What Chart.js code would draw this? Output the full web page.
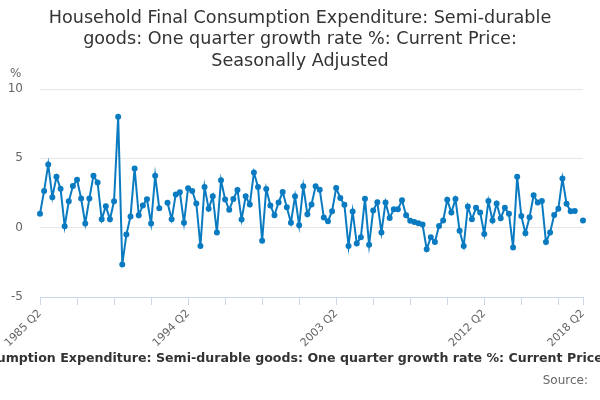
<!DOCTYPE html>
<html>
<head>
<meta charset="utf-8">
<script src="https://cdn.jsdelivr.net/npm/chart.js@4/dist/chart.umd.min.js"></script>
<style>
  html, body { margin: 0; padding: 0; background: #fff; }
  #wrap { width: 600px; height: 400px; }
</style>
</head>
<body>
<div id="wrap"><canvas id="chart"></canvas></div>
<script>
const titleLines = [
  "Household Final Consumption Expenditure: Semi-durable",
  "goods: One quarter growth rate %: Current Price:",
  "Seasonally Adjusted"
];
const seriesName = "Household Final Consumption Expenditure: Semi-durable goods: One quarter growth rate %: Current Price: Seasonally Adjusted";
const sourceText = "Source:";
const unitLabel = "%";

// quarters from 1985 Q2 to 2018 Q2
const firstYear = 1985, firstQuarter = 2, lastYear = 2018, lastQuarter = 2;
let quarters = [];
for (let y = firstYear; y <= lastYear; y++) {
  for (let q = 1; q <= 4; q++) {
    if (y === firstYear && q < firstQuarter) continue;
    if (y === lastYear && q > lastQuarter) break;
    quarters.push(y + " Q" + q);
  }
}
const shownLabels = ["1985 Q2", "1994 Q2", "2003 Q2", "2012 Q2", "2018 Q2"];
const yTicks = [-5, 0, 5, 10];

// one quarter growth rate, %
const growth = [
  1.0, 2.65, 4.56, 2.2, 3.67, 2.8, 0.1, 1.9, 3.0, 3.45,
  2.1, 0.3, 2.1, 3.75, 3.25, 0.6, 1.55, 0.6, 1.9, 8.0,
  -2.65, -0.5, 0.8, 4.27, 0.9, 1.6, 2.05, 0.3, 3.75, 1.4,
  null, 1.8, 0.6, 2.4, 2.55, 0.35, 2.85, 2.65, 1.75, -1.33,
  2.94, 1.36, 2.26, -0.34, 3.42, 2.04, 1.29, 2.06, 2.72, 0.58,
  2.26, 1.67, 3.98, 2.94, -0.95, 2.79, 1.6, 0.9, 1.82, 2.57,
  1.48, 0.36, 2.26, 0.17, 2.99, 0.97, 1.67, 2.99, 2.74, 0.73,
  0.46, 1.19, 2.86, 2.14, 1.65, -1.33, 1.17, -1.14, -0.7, 2.09,
  -1.24, 1.24, 1.84, -0.34, 1.82, 0.7, 1.33, 1.33, 1.97, 0.9,
  0.49, 0.41, 0.32, 0.22, -1.55, -0.7, -1.04, 0.12, 0.51, 2.01,
  1.09, 2.06, -0.22, -1.33, 1.53, 0.61, 1.43, 1.09, -0.46, 1.92,
  0.51, 1.75, 0.68, 1.43, 1.0, -1.43, 3.67, 0.85, -0.41, 0.75,
  2.33, 1.82, 1.92, -1.04, -0.34, 0.92, 1.36, 3.54, 1.72, 1.19,
  1.21, null, 0.51
];

const lineColor = "#0a7bc1";
const font = "'DejaVu Sans', sans-serif";

// titles, unit, series name and source drawn as plain text
const textPlugin = {
  id: "texts",
  afterDraw(chart) {
    let ctx = chart.ctx;
    ctx.save();
    ctx.fillStyle = "#333333";
    ctx.font = "17.6px " + font;
    ctx.textAlign = "center";
    ctx.textBaseline = "middle";
    titleLines.forEach((line, i) => ctx.fillText(line, 300, 18 + i * 21.5));

    ctx.fillStyle = "#666666";
    ctx.font = "12px " + font;
    ctx.textAlign = "left";
    ctx.fillText(unitLabel, 10, 74);

    ctx.fillStyle = "#333333";
    ctx.font = "bold 12.6px " + font;
    ctx.textAlign = "center";
    ctx.fillText(seriesName, 300, 359);

    ctx.fillStyle = "#666666";
    ctx.font = "12px " + font;
    ctx.textAlign = "right";
    ctx.fillText(sourceText, 588, 381);
    ctx.restore();
  }
};

let ctx = document.getElementById("chart").getContext("2d");
new Chart(ctx, {
  type: "line",
  data: {
    labels: quarters,
    datasets: [{
      label: seriesName,
      data: growth,
      borderColor: lineColor,
      backgroundColor: lineColor,
      borderWidth: 2,
      pointRadius: 2,
      pointHoverRadius: 3,
      spanGaps: false,
      tension: 0
    }]
  },
  options: {
    responsive: true,
    maintainAspectRatio: false,
    animation: false,
    layout: { padding: { top: 89, right: 17, bottom: 0, left: 0 } },
    plugins: {
      legend: { display: false },
      title: { display: false },
      tooltip: { enabled: false }
    },
    scales: {
      x: {
        offset: false,
        afterFit: scale => { scale.height = 103; },
        afterBuildTicks: scale => {
          scale.ticks = scale.ticks.filter(t => t.value % 9 === 0 || t.value === quarters.length - 1);
        },
        ticks: {
          autoSkip: false,
          maxRotation: 45,
          minRotation: 45,
          color: "#666666",
          font: { family: font, size: 11 },
          padding: 2,
          callback: function (value) {
            let label = this.getLabelForValue(value);
            return shownLabels.includes(label) ? label : "";
          }
        },
        grid: { drawOnChartArea: false, color: "#ccd6eb", tickLength: 8 },
        border: { color: "#ccd6eb" }
      },
      y: {
        min: -5,
        max: 10,
        afterFit: scale => { scale.width = 40; },
        afterBuildTicks: scale => { scale.ticks = yTicks.map(v => ({ value: v })); },
        ticks: { color: "#666666", font: { family: font, size: 12 }, padding: 17 },
        grid: { color: "#e6e6e6", drawTicks: false },
        border: { display: false }
      }
    }
  },
  plugins: [textPlugin]
});
</script>
</body>
</html>
